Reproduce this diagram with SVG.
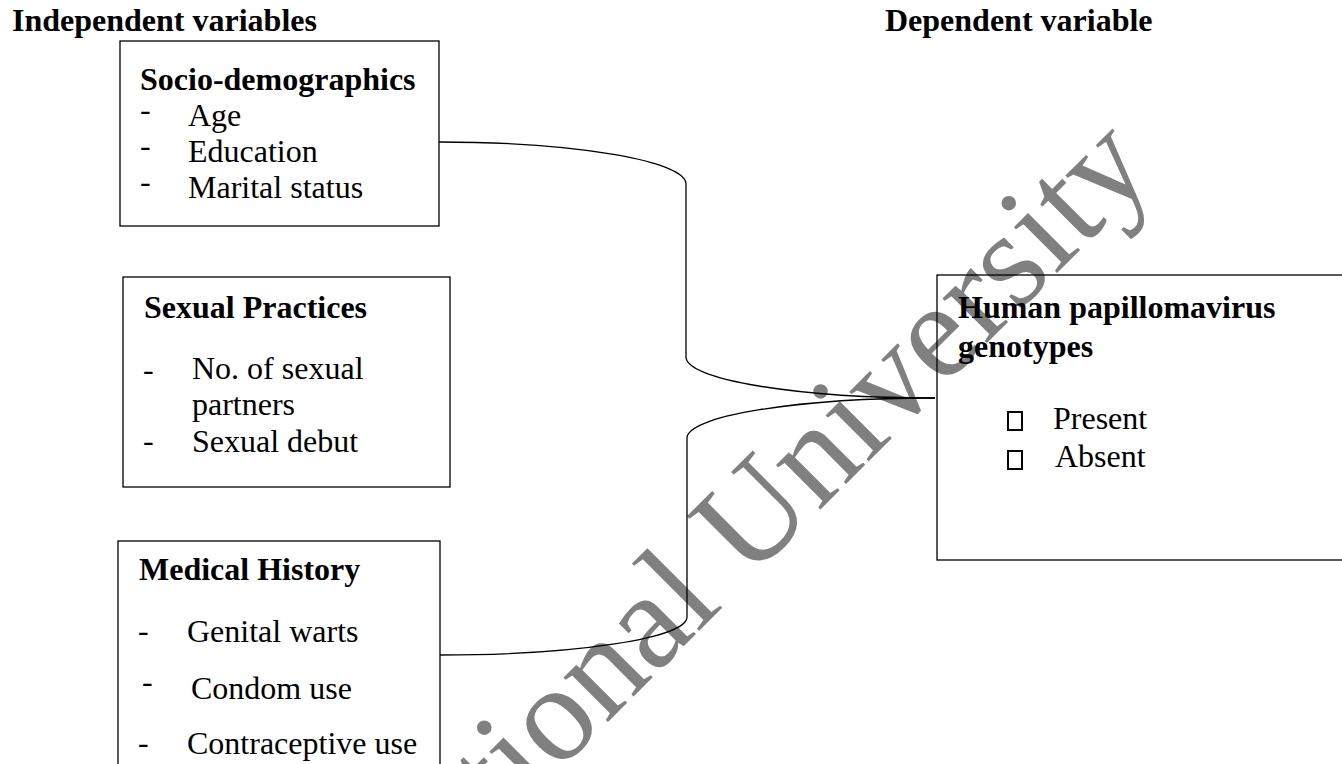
<svg xmlns="http://www.w3.org/2000/svg" width="1342" height="764" viewBox="0 0 1342 764">
<style>
text{font-family:"Liberation Serif","Times New Roman",serif;font-size:32px;fill:#000}
.b{font-weight:bold}
.box{fill:none;stroke:#000;stroke-width:1.3}
.con{fill:none;stroke:#000;stroke-width:1.3}
.chk{fill:none;stroke:#000;stroke-width:2}
.wm{font-size:137px;fill:#808080}
</style>
<rect width="1342" height="764" fill="#fff"/>
<text class="wm" transform="translate(503.5,826.5) rotate(-45)">tional University</text>
<text class="b" x="12" y="31">Independent variables</text>
<text class="b" x="885" y="31">Dependent variable</text>
<g id="connectors">
<path class="con" d="M439,142 A247,42 0 0 1 686,184 L686,357 A249,41 0 0 0 935,398"/>
<path class="con" d="M440,655 A247,38 0 0 0 687,617 L687,438 A248,40 0 0 1 935,398"/>
</g>
<g id="socio">
<rect class="box" x="120" y="41" width="319" height="185"/>
<text class="b" x="140" y="90">Socio-demographics</text>
<text x="140" y="120">-</text><text x="188" y="126">Age</text>
<text x="140" y="156">-</text><text x="188" y="162">Education</text>
<text x="140" y="192">-</text><text x="188" y="198">Marital status</text>
</g>
<g id="sexual">
<rect class="box" x="123" y="277" width="327" height="210"/>
<text class="b" x="144" y="318">Sexual Practices</text>
<text x="143" y="380">-</text><text x="192" y="379">No. of sexual</text>
<text x="192" y="415">partners</text>
<text x="143" y="451">-</text><text x="192" y="452">Sexual debut</text>
</g>
<g id="medical">
<rect class="box" x="118" y="541" width="322" height="240"/>
<text class="b" x="139" y="580">Medical History</text>
<text x="138" y="641">-</text><text x="187" y="642">Genital warts</text>
<text x="142" y="692">-</text><text x="191" y="699">Condom use</text>
<text x="138" y="753">-</text><text x="187" y="754">Contraceptive use</text>
</g>
<g id="hpv">
<rect class="box" x="937" y="275" width="420" height="285"/>
<text class="b" x="958" y="318">Human papillomavirus</text>
<text class="b" x="958" y="357">genotypes</text>
<rect class="chk" x="1008" y="412" width="14" height="18"/>
<text x="1053" y="429">Present</text>
<rect class="chk" x="1008" y="451" width="14" height="18"/>
<text x="1055" y="467">Absent</text>
</g>
</svg>
